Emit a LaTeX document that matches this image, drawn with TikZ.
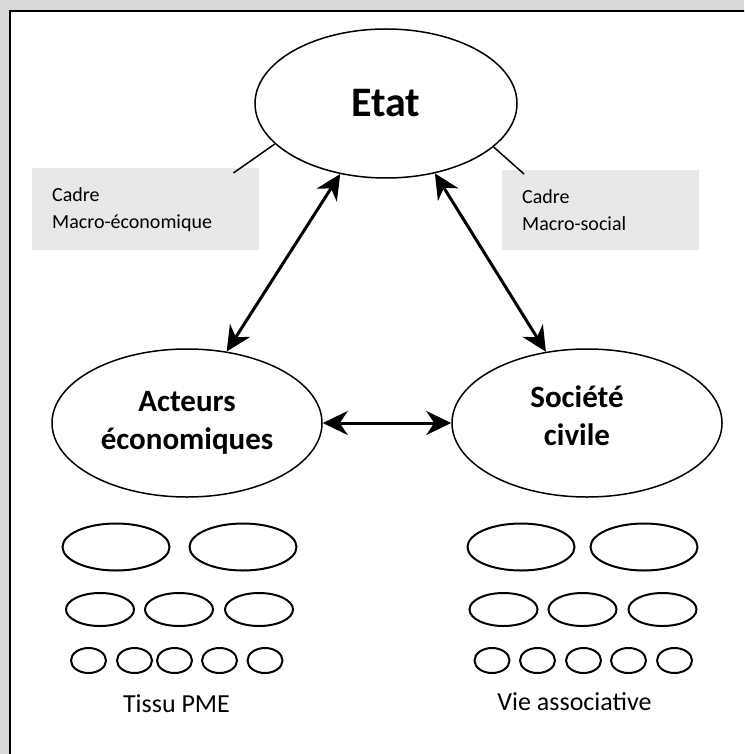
\documentclass[tikz,border=0pt]{standalone}
\usepackage{fontspec}
\setmainfont{Carlito}
\usetikzlibrary{shapes.geometric,arrows.meta,calc}
\definecolor{bgg}{HTML}{D9D9D9}
\definecolor{boxg}{HTML}{E8E8E8}
\begin{document}
\begin{tikzpicture}[x=1pt,y=-1pt,
  bigell/.style={ellipse,draw,line width=1.5pt,inner sep=0pt,align=center,
     font=\bfseries\fontsize{31}{38}\selectfont},
  bigtext/.style={align=center,inner sep=0pt,font=\bfseries\fontsize{31}{38}\selectfont},
  cadrebox/.style={rectangle,fill=boxg,inner xsep=20pt,inner ysep=0pt,align=left,
     anchor=north west,font=\fontsize{20}{27}\selectfont},
  ellA/.style={ellipse,draw,line width=2pt,inner sep=0pt,minimum width=107pt,minimum height=47pt},
  ellB/.style={ellipse,draw,line width=2pt,inner sep=0pt,minimum width=68pt,minimum height=33pt},
  ellC/.style={ellipse,draw,line width=2pt,inner sep=0pt,minimum width=35pt,minimum height=25pt},
  dbl/.style={line width=3pt,{Stealth[length=25pt,width=24pt,inset=8pt]}-{Stealth[length=25pt,width=24pt,inset=8pt]}},
  thin/.style={line width=1.5pt},
  caption/.style={anchor=base,font=\fontsize{26}{30}\selectfont}]
\useasboundingbox (0,0) rectangle (744,754);
\fill[bgg] (0,0) rectangle (744,754);
\begin{scope}
  \clip (0,0) rectangle (744,754);
  \draw[fill=white,line width=2pt] (10,11) rectangle (780,790);
\end{scope}

% main ellipses
\node[bigell,minimum width=262pt,minimum height=149pt,font=\bfseries\fontsize{42}{50}\selectfont] (etat) at (386,103.5) {Etat};
\node[bigell,minimum width=270pt,minimum height=148pt] (act) at (187,423) {Acteurs\\économiques};
\node[bigell,minimum width=270pt,minimum height=148pt] (soc) at (587,423) {};
\node[bigtext] (soctext) at (577,416) {Société\\civile};

% cadre boxes
\node[cadrebox,minimum width=227pt,minimum height=82pt,text width=187pt] (boxL) at (32,168) {Cadre\\Macro-économique};
\node[cadrebox,minimum width=197pt,minimum height=80pt,text width=157pt] (boxR) at (502,170) {Cadre\\Macro-social};

\draw[thin] (etat.200) -- ($(boxL.north east)+(-26,5)$);
\draw[thin] (etat.338) -- ($(boxR.north west)+(22,4)$);

% arrows
\draw[dbl] (etat.237) -- (act.61);
\draw[dbl] (etat.305) -- (soc.120);
\draw[dbl] (act.east) -- (soc.west);

% left group
\node[ellA] (l1) at (116,547) {};
\node[ellA] (l2) at (243,547) {};
\node[ellB] (l3) at (100,609.5) {};
\node[ellB] (l4) at (179,609.5) {};
\node[ellB] (l5) at (259,609.5) {};
\node[ellC] (l6) at (88.5,660.5) {};
\node[ellC] (l7) at (134.5,660.5) {};
\node[ellC] (l8) at (174.5,660.5) {};
\node[ellC] (l9) at (219.5,660.5) {};
\node[ellC] (l10) at (265,660.5) {};
\node[caption] (tissu) at (176.5,712) {Tissu PME};

% right group
\node[ellA] (r1) at (521,547) {};
\node[ellA] (r2) at (644,547) {};
\node[ellB] (r3) at (503.5,609.5) {};
\node[ellB] (r4) at (582.5,609.5) {};
\node[ellB] (r5) at (662.5,609.5) {};
\node[ellC] (r6) at (492,660.5) {};
\node[ellC] (r7) at (537.5,660.5) {};
\node[ellC] (r8) at (583.5,660.5) {};
\node[ellC] (r9) at (628.5,660.5) {};
\node[ellC] (r10) at (674.5,660.5) {};
\node[caption] (vie) at (574.5,710) {Vie associative};
\end{tikzpicture}
\end{document}
